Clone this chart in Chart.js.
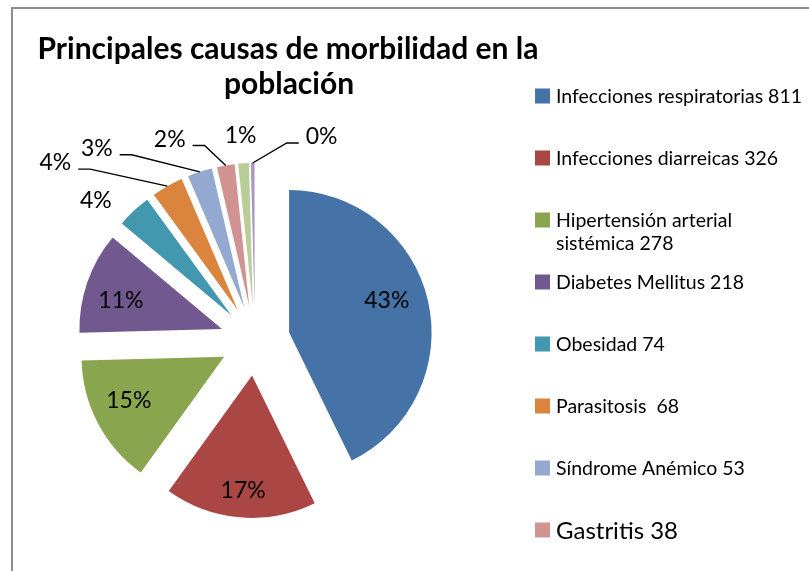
<!DOCTYPE html>
<html>
<head>
<meta charset="utf-8">
<script src="https://cdn.jsdelivr.net/npm/chart.js@4.4.1/dist/chart.umd.min.js"></script>
<style>
  html, body { margin: 0; padding: 0; background: #fff; overflow: hidden; }
  #frame { position: absolute; left: 11px; top: 7px; width: 900px; height: 700px; border: 2px solid #8c8c8c; }
  #wrap { position: absolute; left: 0; top: 0; width: 809px; height: 571px; }
</style>
</head>
<body>
<div id="frame"></div>
<div id="wrap"><canvas id="myChart"></canvas></div>
<script>
// DATA
const titleLines = ["Principales causas de morbilidad en la", "población"];
const causes = [
  "Infecciones respiratorias",
  "Infecciones diarreicas",
  "Hipertensión arterial sistémica",
  "Diabetes Mellitus",
  "Obesidad",
  "Parasitosis ",
  "Síndrome Anémico",
  "Gastritis",
  "Conjuntivitis",
  "Lumbalgia",
];
const cases = [811, 326, 278, 218, 74, 68, 53, 38, 23, 8];
const sliceColors = [
  "#4572A7", "#AA4643", "#89A54E", "#71588F", "#4198AF",
  "#DB843D", "#93A9CF", "#D19392", "#B9CD96", "#A99BBD",
];

// LOOK
const FONT = "Lato, 'Open Sans', sans-serif";
const EXPLODE = 35;   // px each slice is pulled out
const R = 142.5;      // pie radius in px
const insideCount = 4;
// label shift from the slice's reference point, [dx, dy]
const labelShift = [
  [-5, -9], [0, 9], [-2, -6], [-1.5, 5],
  [-38, -11], [-112, -24], [-103, -24], [-56, -27], [-3, -29], [69, -27],
];
const bigLegendItem = 7;

const total = cases.reduce((a, b) => a + b, 0);
const percentText = cases.map((v) => Math.round((v / total) * 100) + "%");

// pull every slice out by the same distance (like Excel's exploded pie)
const explodePlugin = {
  id: "explode",
  beforeDatasetDraw(chart, args) {
    const c = chart.ctx;
    args.meta.data.forEach((arc) => {
      const mid = (arc.startAngle + arc.endAngle) / 2;
      c.save();
      c.translate(EXPLODE * Math.cos(mid), EXPLODE * Math.sin(mid));
      arc.draw(c);
      c.restore();
    });
    return false;
  },
};

const pctSize = 23;
const labelPlugin = {
  id: "pctLabels",
  afterDatasetsDraw(chart) {
    const c = chart.ctx;
    c.save();
    c.font = pctSize + "px " + FONT;
    c.fillStyle = "#000";
    c.strokeStyle = "#000";
    c.lineWidth = 1.4;
    c.textAlign = "center";
    c.textBaseline = "alphabetic";
    chart.getDatasetMeta(0).data.forEach((arc, i) => {
      const mid = (arc.startAngle + arc.endAngle) / 2;
      const dx = Math.cos(mid), dy = Math.sin(mid);
      const ex = arc.x + EXPLODE * dx, ey = arc.y + EXPLODE * dy;
      const inside = i < insideCount;
      const f = inside ? 0.74 : 1;
      const ax = ex + arc.outerRadius * f * dx, ay = ey + arc.outerRadius * f * dy;
      const lx = ax + labelShift[i][0], ly = ay + labelShift[i][1];
      c.fillText(percentText[i], lx, ly + pctSize * 0.72 / 2);
      if (!inside && Math.hypot(labelShift[i][0], labelShift[i][1]) > 40) {
        const w = c.measureText(percentText[i]).width;
        const left = lx < ax;
        const sx = left ? lx + w / 2 + 7 : lx - w / 2 - 7;
        const sy = ly + 7;
        const hx = left ? Math.min(sx + 12, ax) : Math.max(sx - 12, ax);
        c.beginPath();
        c.moveTo(sx, sy);
        c.lineTo(hx, sy);
        c.lineTo(ax, ay);
        c.stroke();
      }
    });
    c.restore();
  },
};

const legendFont = 19.5, bigLegendFont = 24;
const titlePlugin = {
  id: "titleAndLegend",
  afterDraw(chart) {
    const c = chart.ctx;
    c.save();
    c.fillStyle = "#000";
    c.textAlign = "center";
    c.textBaseline = "alphabetic";
    c.font = "bold 30px " + FONT;
    c.fillText(titleLines[0], 288, 58.5);
    c.fillText(titleLines[1], 289, 94);

    c.textAlign = "left";
    causes.forEach((name, i) => {
      const y = 96 + 62 * i;
      const size = i === bigLegendItem ? bigLegendFont : legendFont;
      c.font = size + "px " + FONT;
      const text = name + " " + cases[i];
      // wrap words that run past the right edge
      const lines = [];
      let line = "";
      text.split(" ").forEach((word) => {
        const test = line ? line + " " + word : word;
        if (line && c.measureText(test).width > 255) {
          lines.push(line);
          line = word;
        } else line = test;
      });
      lines.push(line);
      c.fillStyle = sliceColors[i];
      c.fillRect(535, y - 7.5, 15, 15);
      c.fillStyle = "#000";
      lines.forEach((l, k) => c.fillText(l, 556, y + k * 23 + size * 0.72 / 2));
    });
    c.restore();
  },
};

const ctx = document.getElementById("myChart").getContext("2d");
const myChart = new Chart(ctx, {
  type: "pie",
  data: {
    labels: causes,
    datasets: [
      {
        data: cases,
        backgroundColor: sliceColors,
        borderWidth: 0,
        radius: R,
      },
    ],
  },
  options: {
    responsive: true,
    maintainAspectRatio: false,
    animation: false,
    events: [],
    layout: { padding: { left: 0, right: 299, top: 150, bottom: 40 } },
    plugins: {
      legend: { display: false },
      tooltip: { enabled: false },
    },
  },
  plugins: [explodePlugin, labelPlugin, titlePlugin],
});
</script>
</body>
</html>
